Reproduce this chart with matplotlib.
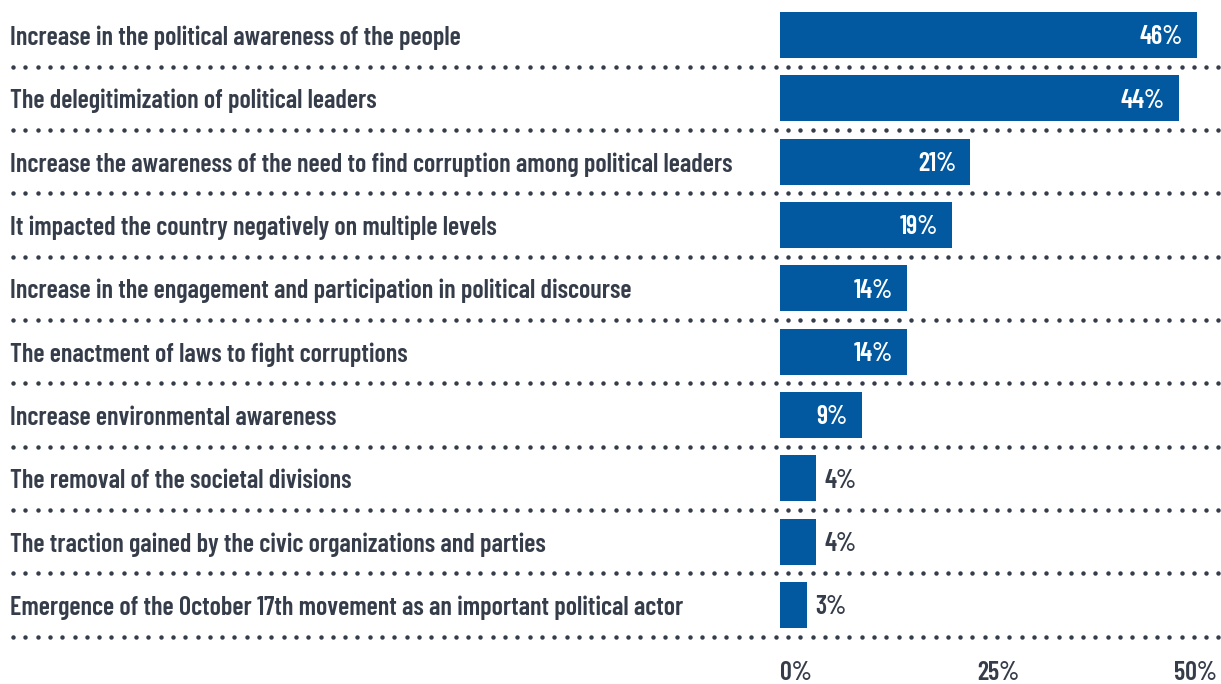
import numpy as np
import matplotlib
matplotlib.use("Agg")
import matplotlib.pyplot as plt
from matplotlib import transforms

plt.rcParams['font.family'] = ['Barlow Condensed', 'DejaVu Sans']
plt.rcParams['font.weight'] = 600

labels = [
    "Increase in the political awareness of the people",
    "The delegitimization of political leaders",
    "Increase the awareness of the need to find corruption among political leaders",
    "It impacted the country negatively on multiple levels",
    "Increase in the engagement and participation in political discourse",
    "The enactment of laws to fight corruptions",
    "Increase environmental awareness",
    "The removal of the societal divisions",
    "The traction gained by the civic organizations and parties",
    "Emergence of the October 17th movement as an important political actor",
]
values = [46, 44, 21, 19, 14, 14, 9, 4, 4, 3]
tick_values = [0, 25, 50]

BLUE = "#02599f"
INK = "#363d4a"
FS = 18.8
W, H = 1221, 684

fig = plt.figure(figsize=(W / 100, H / 100), dpi=100)
# axes box in pixels: x 780..1217, rows centred 35..605 with 63.3px spacing
row = 63.33
top_px = 35 - row / 2
bot_px = 35 + 9 * row + row / 2
ax = fig.add_axes([780 / W, 1 - bot_px / H, (1217 - 780) / W, (bot_px - top_px) / H])
ax.set_xlim(0, 48.2)
ax.set_ylim(len(values) - 0.5, -0.5)
ax.axis("off")

y = np.arange(len(values))
ax.barh(y, values, height=46 / row, color=BLUE)

# value labels: white inside long bars, dark just past short ones
for yi, v in zip(y, values):
    if v >= 9:
        off = transforms.offset_copy(ax.transData, fig=fig, x=-14, y=-9.5, units='dots')
        ax.text(v, yi, f"{v}%", color="white", fontsize=FS, ha="right", va="baseline", transform=off)
    else:
        off = transforms.offset_copy(ax.transData, fig=fig, x=8, y=-9.5, units='dots')
        ax.text(v, yi, f"{v}%", color=INK, fontsize=FS, ha="left", va="baseline", transform=off)

# category labels on the left edge of the figure
lab_tr = transforms.blended_transform_factory(fig.transFigure, ax.transData)
lab_off = transforms.offset_copy(lab_tr, fig=fig, x=0, y=-10, units='dots')
for yi, lab in zip(y, labels):
    ax.text(10 / W, yi, lab, color=INK, fontsize=FS, ha="left", va="baseline",
            transform=lab_off, clip_on=False)

# dotted separators under each row
dots_x = (13 + 12.3 * np.arange(99)) / W
for yi in y:
    ax.plot(dots_x, np.full(dots_x.shape, yi + 0.5), "o", color=INK, markersize=3.2,
            markeredgewidth=0, transform=lab_tr, clip_on=False)

# scale labels under the axis
tick_tr = transforms.blended_transform_factory(ax.transAxes, fig.transFigure)
for frac, t, ha in zip([0, 0.5, 1], tick_values, ["left", "center", "right"]):
    ax.text(frac, 1 - 680 / H, f"{t}%", color=INK, fontsize=FS, ha=ha, va="baseline",
            transform=tick_tr, clip_on=False)

fig.savefig("out.png", dpi=100, facecolor="white")
